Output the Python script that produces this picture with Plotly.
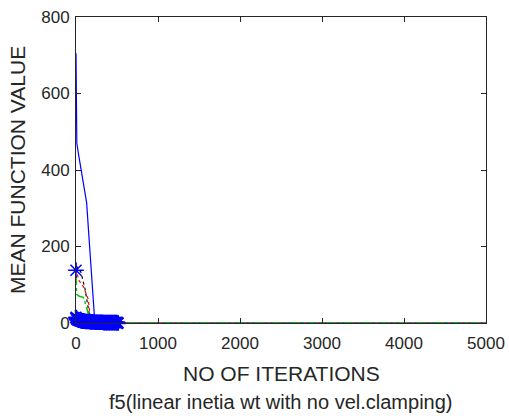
import plotly.graph_objects as go

# Series (iteration, mean function value)
blue_x = [0, 3, 10, 28, 60, 110, 130, 150, 175, 200, 224, 240, 5000]
blue_y = [705, 600, 470, 445, 405, 340, 314, 250, 170, 90, 19, 0, 0]

red_x = [0, 10, 40, 90, 150, 165, 180, 5000]
red_y = [158, 130, 110, 95, 62, 28, 0, 0]

black_x = [0, 30, 60, 110, 150, 180, 5000]
black_y = [150, 140, 133, 89, 40, 0, 0]

green_x = [0, 8, 40, 90, 110, 145, 170, 5000]
green_y = [123, 75, 70, 67, 54, 28, 0, 0]

star_x = [0, 10, 20, 30, 40, 50, 60, 70, 80, 90, 100, 120, 140, 160, 180, 200, 220, 240,
          260, 280, 300, 320, 340, 360, 380, 400, 420, 440, 460, 480, 500, 510]
star_y = [14, 10, 9, 8, 7, 7, 6, 6, 5, 5, 5, 4, 4, 4, 3, 3, 3, 2,
          2, 2, 2, 2, 1, 1, 1, 1, 1, 1, 1, 1, 1, 0]
big_star_x = [0]
big_star_y = [138]

x_ticks = [0, 1000, 2000, 3000, 4000, 5000]
y_ticks = [0, 200, 400, 600, 800]

FONT = "Liberation Sans, Arial"
TXT = "#262626"

fig = go.Figure()
fig.add_trace(go.Scatter(x=blue_x, y=blue_y, mode="lines",
                         line=dict(color="#0000ff", width=1.2)))
fig.add_trace(go.Scatter(x=red_x, y=red_y, mode="lines",
                         line=dict(color="#ff0000", width=1.2, dash="dot")))
fig.add_trace(go.Scatter(x=black_x, y=black_y, mode="lines",
                         line=dict(color="#000000", width=1.2, dash="dot")))
fig.add_trace(go.Scatter(x=green_x, y=green_y, mode="lines",
                         line=dict(color="#00cc00", width=1.5, dash="dashdot")))
fig.add_trace(go.Scatter(x=star_x, y=star_y, mode="markers", cliponaxis=False,
                         marker=dict(symbol="asterisk-open", size=13, color="#0000ff",
                                     line=dict(color="#0000ff", width=2.5))))
fig.add_trace(go.Scatter(x=big_star_x, y=big_star_y, mode="markers", cliponaxis=False,
                         marker=dict(symbol="asterisk-open", size=13, color="#0000ff",
                                     line=dict(color="#0000ff", width=1.5))))

axis_common = dict(showgrid=False, zeroline=False, showline=True, linecolor=TXT,
                   linewidth=1, mirror="ticks", ticks="inside", ticklen=5,
                   automargin=False,
                   tickcolor=TXT, tickfont=dict(family=FONT, size=17, color=TXT))

fig.update_layout(
    width=509, height=416,
    margin=dict(l=76, r=23, t=17, b=93, autoexpand=False),
    paper_bgcolor="white", plot_bgcolor="white",
    showlegend=False,
    xaxis=dict(range=[0, 5000], tickvals=x_ticks, ticklabelstandoff=5, **axis_common),
    yaxis=dict(range=[0, 800], tickvals=y_ticks, ticklabelstandoff=2, **axis_common),
    annotations=[
        dict(text="NO OF ITERATIONS", xref="paper", yref="paper", x=0.5, y=0,
             yshift=-50, xanchor="center", yanchor="middle", showarrow=False,
             font=dict(family=FONT, size=21, color=TXT)),
        dict(text="f5(linear inetia wt with no vel.clamping)", xref="paper", yref="paper",
             x=0.5, y=0, yshift=-79, xanchor="center", yanchor="middle", showarrow=False,
             font=dict(family=FONT, size=20, color=TXT)),
        dict(text="MEAN FUNCTION VALUE", xref="paper", yref="paper", x=0, y=0.5,
             xshift=-59, xanchor="center", yanchor="middle", textangle=-90, showarrow=False,
             font=dict(family=FONT, size=21, color=TXT)),
    ],
)

fig.write_html("out.html")
